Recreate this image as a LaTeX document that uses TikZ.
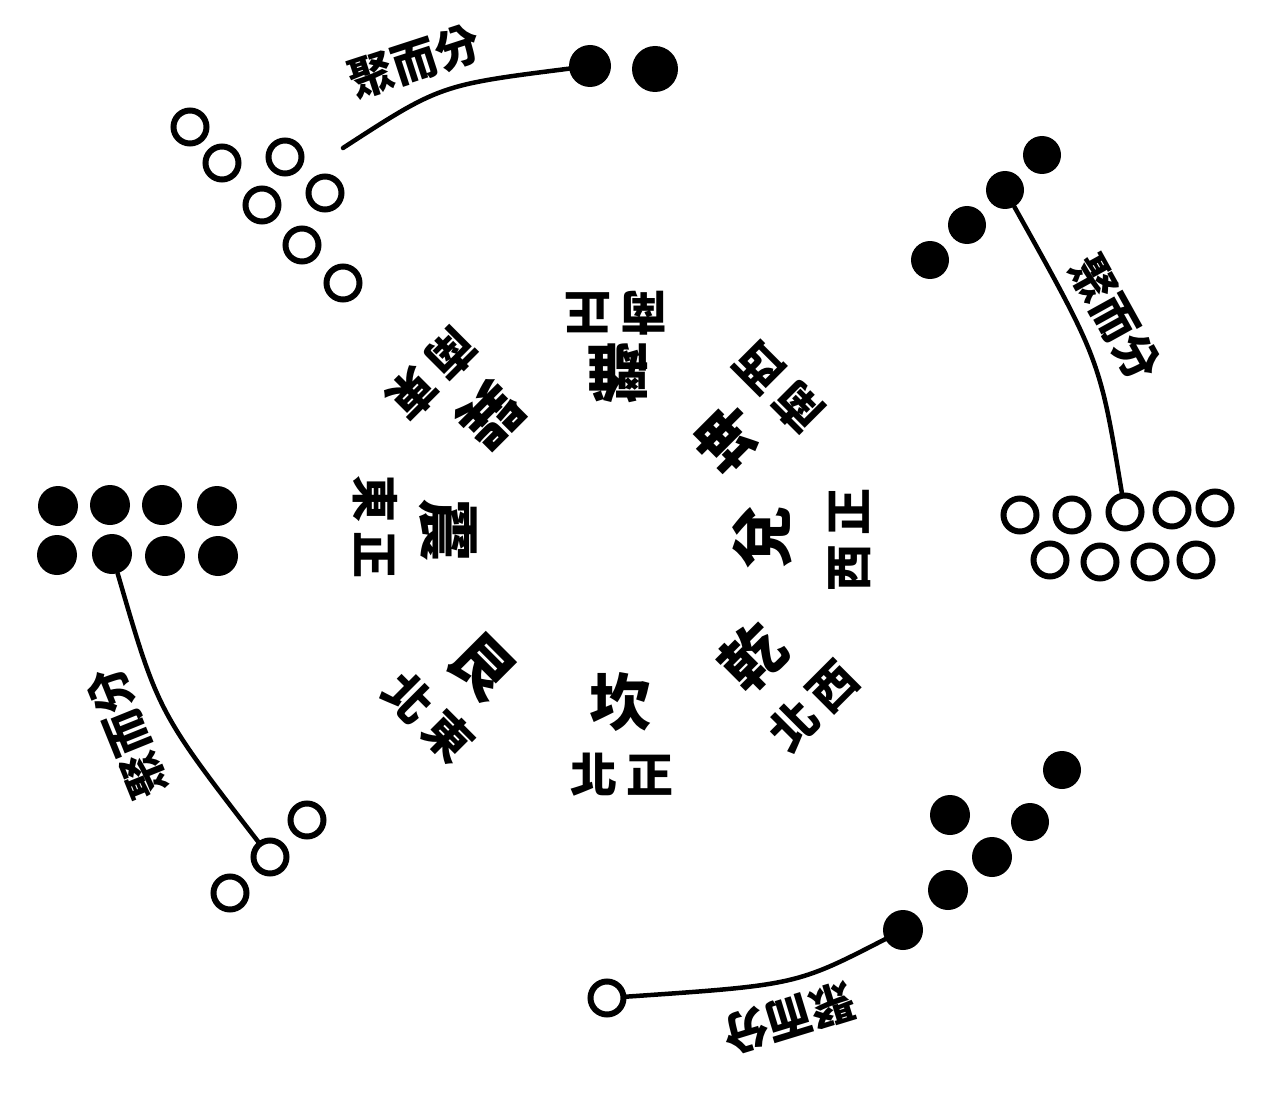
\documentclass[tikz,border=0pt]{standalone}
\usepackage{fontspec}
\newfontfamily\cjk{Noto Sans CJK TC}
\begin{document}
\begin{tikzpicture}[x=1pt,y=-1pt,
  wdot/.style={circle,draw,line width=6pt,minimum size=33pt,inner sep=0pt},
  bdot/.style={circle,fill,minimum size=40pt,inner sep=0pt},
  link/.style={line width=4.5pt,line cap=round},
  gua/.style={font=\cjk\bfseries\fontsize{62}{62}\selectfont,inner sep=0pt},
  fang/.style={font=\cjk\bfseries\fontsize{47}{47}\selectfont,inner sep=0pt},
  ju/.style={font=\cjk\bfseries\fontsize{45}{45}\selectfont,inner sep=0pt}]
\path[use as bounding box] (0,0) rectangle (1270,1097);

% top group: 7 white, 2 black
\node[wdot] (tw1) at (190,127) {};
\node[wdot] (tw2) at (222,163) {};
\node[wdot] (tw3) at (285,157) {};
\node[wdot] (tw4) at (262,205) {};
\node[wdot] (tw5) at (325,193) {};
\node[wdot] (tw6) at (302,245) {};
\node[wdot] (tw7) at (343,283) {};
\node[bdot,minimum size=42pt] (tb1) at (590,66) {};
\node[bdot,minimum size=46pt] (tb2) at (655,69) {};
\coordinate (tend) at (343,148);
\draw[link] (tend) .. controls (440,85) .. (tb1);
\node[ju,rotate=18] (tl) at (415,62) {聚而分};

% right group: 4 black, 9 white
\node[bdot,minimum size=38pt] (rb1) at (930,260) {};
\node[bdot,minimum size=38pt] (rb2) at (967,225) {};
\node[bdot,minimum size=38pt] (rb3) at (1005,190) {};
\node[bdot,minimum size=38pt] (rb4) at (1042,155) {};
\node[wdot] (rw1) at (1020,515) {};
\node[wdot] (rw2) at (1072,515) {};
\node[wdot] (rw3) at (1125,512) {};
\node[wdot] (rw4) at (1172,510) {};
\node[wdot] (rw5) at (1215,508) {};
\node[wdot] (rw6) at (1050,560) {};
\node[wdot] (rw7) at (1100,562) {};
\node[wdot] (rw8) at (1150,562) {};
\node[wdot] (rw9) at (1196,560) {};
\draw[link] (rb3) .. controls (1100,360) .. (rw3);
\node[ju,rotate=-61] (rl) at (1115,318) {聚而分};

% left group: 8 black, 3 white
\node[bdot] (lb1) at (58,506) {};
\node[bdot] (lb2) at (110,505) {};
\node[bdot] (lb3) at (162,505) {};
\node[bdot] (lb4) at (217,506) {};
\node[bdot] (lb5) at (57,555) {};
\node[bdot] (lb6) at (112,554) {};
\node[bdot] (lb7) at (165,556) {};
\node[bdot] (lb8) at (218,556) {};
\node[wdot] (lw1) at (230,893) {};
\node[wdot] (lw2) at (270,857) {};
\node[wdot] (lw3) at (307,820) {};
\draw[link] (lb6) .. controls (158,712) .. (lw2);
\node[ju,rotate=112] (ll) at (128,733) {聚而分};

% bottom group: 6 black, 1 white
\node[bdot,minimum size=38pt] (bb1) at (1062,770) {};
\node[bdot] (bb2) at (950,815) {};
\node[bdot,minimum size=38pt] (bb3) at (1030,822) {};
\node[bdot] (bb4) at (992,857) {};
\node[bdot] (bb5) at (948,890) {};
\node[bdot] (bb6) at (903,930) {};
\node[wdot] (bw1) at (607,998) {};
\draw[link] (bw1) .. controls (796,985) .. (bb6);
\node[ju,rotate=197] (bl) at (789,1018) {聚而分};

% trigrams
\node[gua] (kan) at (620,702) {坎};
\node[gua,rotate=45] (qian) at (753,657) {乾};
\node[gua,rotate=90] (dui) at (762,537) {兌};
\node[gua,rotate=135] (kun) at (727,438) {坤};
\node[gua,rotate=180] (li) at (618,373) {離};
\node[gua,rotate=225] (xun) at (490,415) {巽};
\node[gua,rotate=270] (zhen) at (448,530) {震};
\node[gua,rotate=315] (gen) at (482,667) {艮};

% directions
\node[fang] (dN) at (622,775) {北\hspace{9pt}正};
\node[fang,rotate=45] (dNW) at (813,706) {北\hspace{9pt}西};
\node[fang,rotate=90] (dW) at (850,540) {西\hspace{9pt}正};
\node[fang,rotate=135] (dSW) at (779,388) {南\hspace{9pt}西};
\node[fang,rotate=180] (dS) at (616,313) {南\hspace{9pt}正};
\node[fang,rotate=225] (dSE) at (432,374) {南\hspace{9pt}東};
\node[fang,rotate=270] (dE) at (375,527) {東\hspace{9pt}正};
\node[fang,rotate=315] (dNE) at (429,717) {北\hspace{9pt}東};
\end{tikzpicture}
\end{document}
